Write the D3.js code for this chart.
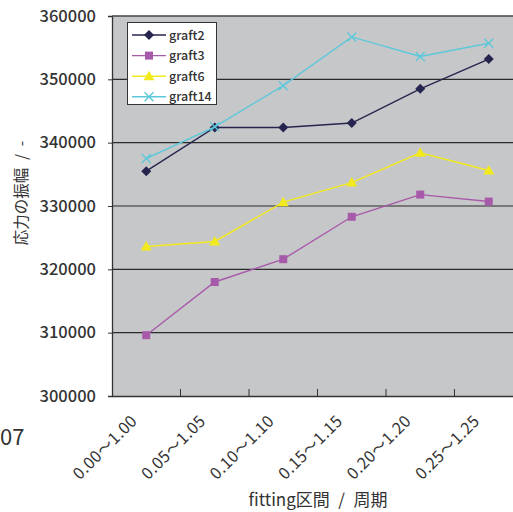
<!DOCTYPE html>
<html><head><meta charset="utf-8">
<script src="https://cdn.jsdelivr.net/npm/d3@7"></script>
<style>body{margin:0;background:#fff}svg{display:block}</style>
</head><body>
<svg id="c" width="513" height="512"></svg>
<script>
const categories = ["0.00～1.00","0.05～1.05","0.10～1.10","0.15～1.15","0.20～1.20","0.25～1.25"];
const graft2  = [335500, 342400, 342400, 343100, 348500, 353200];
const graft3  = [309600, 318000, 321600, 328300, 331800, 330700];
const graft6  = [323600, 324400, 330600, 333700, 338400, 335600];
const graft14 = [337500, 342500, 349000, 356700, 353600, 355700];
const yTicks  = [300000, 310000, 320000, 330000, 340000, 350000, 360000];
const seriesNames = ["graft2","graft3","graft6","graft14"];

const series = [
  {name: seriesNames[0], values: graft2,  color: "#25254f", marker: "diamond"},
  {name: seriesNames[1], values: graft3,  color: "#a85aaa", marker: "square"},
  {name: seriesNames[2], values: graft6,  color: "#f2ea1c", marker: "triangle"},
  {name: seriesNames[3], values: graft14, color: "#5cc8da", marker: "x"}
];

const svg = d3.select("#c");
const font = "'Noto Sans CJK JP','Noto Sans',sans-serif";
const L = 112, T = 16, B = 396, W = 68.5;
const R = L + W * categories.length;

const x = d3.scaleBand().domain(categories).range([L, R]);
const y = d3.scaleLinear().domain([300000, 360000]).range([B, T]);

svg.append("rect").attr("x", L).attr("y", T).attr("width", R - L).attr("height", B - T).attr("fill", "#c6c7c9");

// grid lines
svg.append("g").selectAll("line").data(yTicks.slice(1)).join("line")
  .attr("x1", L).attr("x2", R).attr("y1", d => y(d)).attr("y2", d => y(d))
  .attr("stroke", "#2b2b2b").attr("stroke-width", 1.2);

// y axis
const yAxis = svg.append("g").attr("transform", `translate(${L},0)`)
  .call(d3.axisLeft(y).tickValues(yTicks).tickFormat(d3.format("d")).tickSize(4).tickPadding(12));
yAxis.select(".domain").attr("stroke", "#333").attr("stroke-width", 1.3);
yAxis.selectAll(".tick line").attr("stroke", "#333");
yAxis.selectAll("text").attr("font-family", font).attr("font-size", 16.5).attr("fill", "#333").attr("font-weight", 500);

// x axis
const xAxis = svg.append("g").attr("transform", `translate(0,${B})`)
  .call(d3.axisBottom(x).tickSize(0).tickFormat(""));
xAxis.select(".domain").attr("stroke", "#333").attr("stroke-width", 1.3);
svg.append("g").selectAll("line").data(categories.slice(1)).join("line")
  .attr("x1", d => x(d)).attr("x2", d => x(d)).attr("y1", B).attr("y2", B - 7)
  .attr("stroke", "#333").attr("stroke-width", 1);

svg.append("g").selectAll("text").data(categories).join("text")
  .attr("transform", d => `translate(${x(d) + x.bandwidth()/2 - 8},${B + 26}) rotate(-45)`)
  .attr("text-anchor", "end")
  .attr("font-family", font).attr("font-size", 16).attr("letter-spacing", 0.5).attr("fill", "#333")
  .text(d => d);

// lines
const cx = (d, i) => x(categories[i]) + x.bandwidth() / 2;
const line = d3.line().x(cx).y(d => y(d));

function drawMarker(g, type, color, px, py) {
  if (type === "diamond") {
    g.append("path").attr("d", `M${px},${py-5}L${px+5},${py}L${px},${py+5}L${px-5},${py}Z`).attr("fill", color);
  } else if (type === "square") {
    g.append("rect").attr("x", px-4).attr("y", py-4).attr("width", 8).attr("height", 8).attr("fill", color);
  } else if (type === "triangle") {
    g.append("path").attr("d", `M${px},${py-5.5}L${px+5.5},${py+4}L${px-5.5},${py+4}Z`).attr("fill", color);
  } else {
    g.append("path").attr("d", `M${px-4.5},${py-4.5}L${px+4.5},${py+4.5}M${px+4.5},${py-4.5}L${px-4.5},${py+4.5}`)
      .attr("stroke", color).attr("stroke-width", 1.4);
  }
}

series.forEach(s => {
  svg.append("path").datum(s.values).attr("d", line)
    .attr("fill", "none").attr("stroke", s.color).attr("stroke-width", 1.4);
  const g = svg.append("g");
  s.values.forEach((v, i) => drawMarker(g, s.marker, s.color, cx(v, i), y(v)));
});

// top border
svg.append("line").attr("x1", L).attr("x2", R).attr("y1", T).attr("y2", T).attr("stroke", "#555").attr("stroke-width", 1);

// legend
const lg = svg.append("g");
lg.append("rect").attr("x", 127.5).attr("y", 22.5).attr("width", 89).attr("height", 82)
  .attr("fill", "#fff").attr("stroke", "#333").attr("stroke-width", 1);
series.forEach((s, i) => {
  const ly = 35 + i * 20.6;
  lg.append("line").attr("x1", 132).attr("x2", 166).attr("y1", ly).attr("y2", ly)
    .attr("stroke", s.color).attr("stroke-width", 1.4);
  drawMarker(lg, s.marker, s.color, 149, ly);
  lg.append("text").attr("x", 169).attr("y", ly + 4.5).attr("font-family", font)
    .attr("font-size", 12.5).attr("fill", "#333").attr("font-weight", 500).text(s.name);
});

// axis titles
svg.append("text").attr("transform", "translate(27,193) rotate(-90)").attr("text-anchor", "middle")
  .attr("font-family", font).attr("font-size", 15.5).attr("fill", "#333").text("応力の振幅\u2002/\u2002-");
svg.append("text").attr("x", 318).attr("y", 506).attr("text-anchor", "middle")
  .attr("font-family", font).attr("font-size", 17).attr("fill", "#333").text("fitting区間\u2002/\u2002周期");
svg.append("text").attr("x", 0).attr("y", 445).attr("text-anchor", "start")
  .attr("font-family", font).attr("font-size", 22).attr("fill", "#333").text("07");
</script>
</body></html>
